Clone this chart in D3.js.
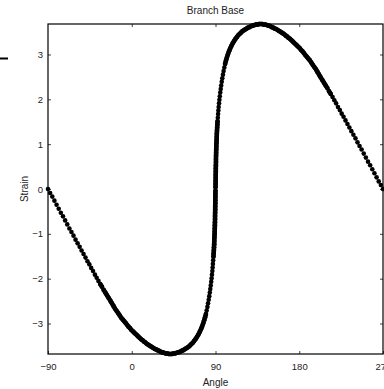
<!DOCTYPE html>
<html>
<head>
<meta charset="utf-8">
<script src="https://cdn.jsdelivr.net/npm/d3@7"></script>
<style>
  body { margin: 0; background: #fff; }
  text { font-family: "Liberation Sans", Arial, sans-serif; fill: #222; }
</style>
</head>
<body>
<div data-output></div>
<script>
// Strain vs angle: first the branch going down then up to 90,
// then the branch going over the top and back to zero at 270.
const angleDown = [
  -90, -87.7, -85.4, -83.1, -80.8, -78.5, -76.2, -73.9, -71.6, -69.3, -67.0,
  -64.8, -62.6, -60.4, -58.2, -56.0, -53.9, -51.8, -49.7, -47.6, -45.6,
  -43.6, -41.6, -39.6, -37.7, -35.8, -33.9, -32.0, -30.2, -28.4, -26.6,
  -24.8, -23.0, -21.3, -19.6, -17.9, -16.2, -14.5, -12.9, -11.3, -9.7,
  -8.1, -6.5, -5.0, -3.5, -2.0, -0.5, 1.0, 2.5, 4.0, 5.5,
  7.0, 8.5, 10.0, 11.5, 13.0, 14.5, 16.0, 17.5, 19.0, 20.5,
  22.0, 23.5, 25.0, 26.5, 28.0, 29.5, 31.0, 32.5, 34.0, 35.5,
  37.0, 38.5, 40.0, 41.5, 43.0, 44.5, 46.0, 47.5, 49.0, 50.5,
  52.0, 53.5, 55.0, 56.5, 58.0, 59.5, 61.0, 62.5, 64.0, 65.5,
  67.0, 68.5, 70.0, 71.5, 73.0, 74.3, 75.5, 76.7, 77.8, 78.8,
  79.7, 80.5, 81.3, 82.0, 82.7, 83.3, 83.9, 84.4, 84.9, 85.4,
  85.8, 86.2, 86.6, 86.9, 87.2, 87.5, 87.8, 88.0, 88.2, 88.4,
  88.6, 88.7, 88.8, 89.0, 89.1, 89.2, 89.3, 89.4, 89.5, 89.5,
  89.6, 89.7, 89.7, 89.8, 89.8, 89.9, 89.9, 90.0
];
const strainDown = [
  0, -0.09, -0.17, -0.26, -0.35, -0.44, -0.53, -0.61, -0.70, -0.79, -0.88,
  -0.96, -1.04, -1.13, -1.21, -1.29, -1.37, -1.45, -1.53, -1.61, -1.68,
  -1.76, -1.83, -1.91, -1.98, -2.05, -2.12, -2.18, -2.25, -2.31, -2.37,
  -2.43, -2.49, -2.55, -2.61, -2.67, -2.72, -2.77, -2.82, -2.87, -2.91,
  -2.95, -2.99, -3.03, -3.07, -3.10, -3.14, -3.17, -3.20, -3.23, -3.26,
  -3.29, -3.32, -3.35, -3.37, -3.40, -3.42, -3.45, -3.47, -3.49, -3.51,
  -3.53, -3.55, -3.57, -3.58, -3.60, -3.61, -3.63, -3.64, -3.65, -3.66,
  -3.67, -3.67, -3.68, -3.68, -3.68, -3.67, -3.67, -3.66, -3.65, -3.64,
  -3.63, -3.61, -3.60, -3.58, -3.56, -3.54, -3.52, -3.49, -3.46, -3.43,
  -3.39, -3.35, -3.30, -3.25, -3.19, -3.13, -3.07, -3.00, -2.93, -2.86,
  -2.79, -2.71, -2.63, -2.55, -2.47, -2.39, -2.31, -2.23, -2.15, -2.07,
  -1.99, -1.91, -1.83, -1.75, -1.67, -1.59, -1.51, -1.44, -1.37, -1.30,
  -1.23, -1.16, -1.09, -1.02, -0.95, -0.88, -0.81, -0.74, -0.67, -0.60,
  -0.53, -0.46, -0.39, -0.32, -0.25, -0.18, -0.11, -0.04
];
const angleUp = [
  90.0, 90.1, 90.1, 90.2, 90.2, 90.3, 90.3, 90.4,
  90.5, 90.5, 90.6, 90.7, 90.8, 90.9, 91.0, 91.2, 91.3, 91.4,
  91.6, 91.8, 92.0, 92.2, 92.5, 92.8, 93.1, 93.4, 93.8, 94.2,
  94.6, 95.1, 95.6, 96.1, 96.7, 97.3, 98.0, 98.7, 99.5, 100.3,
  101.2, 102.2, 103.3, 104.5, 105.7, 107.0, 108.5, 110.0, 111.5, 113.0,
  114.5, 116.0, 117.5, 119.0, 120.5, 122.0, 123.5, 125.0, 126.5, 128.0,
  129.5, 131.0, 132.5, 134.0, 135.5, 137.0, 138.5, 140.0, 141.5, 143.0,
  144.5, 146.0, 147.5, 149.0, 150.5, 152.0, 153.5, 155.0, 156.5, 158.0,
  159.5, 161.0, 162.5, 164.0, 165.5, 167.0, 168.5, 170.0, 171.5, 173.0,
  174.5, 176.0, 177.5, 179.0, 180.5, 182.0, 183.5, 185.0, 186.5, 188.1,
  189.7, 191.3, 192.9, 194.5, 196.2, 197.9, 199.6, 201.3, 203.0, 204.8,
  206.6, 208.4, 210.2, 212.0, 213.9, 215.8, 217.7, 219.6, 221.6, 223.6,
  225.6, 227.6, 229.7, 231.8, 233.9, 236.0, 238.2, 240.4, 242.6, 244.8,
  247.0, 249.3, 251.6, 253.9, 256.2, 258.5, 260.8, 263.1, 265.4, 267.7, 270
];
const strainUp = [
  0.04, 0.11, 0.18, 0.25, 0.32, 0.39, 0.46, 0.53,
  0.60, 0.67, 0.74, 0.81, 0.88, 0.95, 1.02, 1.09, 1.16, 1.23,
  1.30, 1.37, 1.44, 1.51, 1.59, 1.67, 1.75, 1.83, 1.91, 1.99,
  2.07, 2.15, 2.23, 2.31, 2.39, 2.47, 2.55, 2.63, 2.71, 2.79,
  2.86, 2.93, 3.00, 3.07, 3.13, 3.19, 3.25, 3.30, 3.35, 3.39,
  3.43, 3.46, 3.49, 3.52, 3.54, 3.56, 3.58, 3.60, 3.61, 3.63,
  3.64, 3.65, 3.66, 3.67, 3.67, 3.68, 3.68, 3.68, 3.67, 3.67,
  3.66, 3.65, 3.64, 3.63, 3.61, 3.60, 3.58, 3.57, 3.55, 3.53,
  3.51, 3.49, 3.47, 3.45, 3.42, 3.40, 3.37, 3.35, 3.32, 3.29,
  3.26, 3.23, 3.20, 3.17, 3.14, 3.10, 3.07, 3.03, 2.99, 2.95,
  2.91, 2.87, 2.82, 2.77, 2.72, 2.67, 2.61, 2.55, 2.49, 2.43,
  2.37, 2.31, 2.25, 2.18, 2.12, 2.05, 1.98, 1.91, 1.83, 1.76,
  1.68, 1.61, 1.53, 1.45, 1.37, 1.29, 1.21, 1.13, 1.04, 0.96,
  0.88, 0.79, 0.70, 0.61, 0.53, 0.44, 0.35, 0.26, 0.17, 0.09, 0
];

const xTicks = [-90, 0, 90, 180, 270];
const yTicks = [-3, -2, -1, 0, 1, 2, 3];
const TITLE = 'Branch Base';
const X_LABEL = 'Angle';
const Y_LABEL = 'Strain';

const SIZE = { WIDTH: 384, HEIGHT: 389 };
const box = { left: 48, right: 383, top: 24, bottom: 354 };
const DOT = 2.3;

const data = angleDown.concat(angleUp).map((a, i) => ({
  x: a,
  y: strainDown.concat(strainUp)[i]
}));

const x = d3.scaleLinear().domain([-90, 270]).range([box.left, box.right]);
const y = d3.scaleLinear().domain([-3.68, 3.68]).range([box.bottom, box.top]);

const svg = d3.select('[data-output]').append('svg')
  .attr('width', SIZE.WIDTH)
  .attr('height', SIZE.HEIGHT);

svg.append('rect')
  .attr('width', SIZE.WIDTH).attr('height', SIZE.HEIGHT)
  .attr('fill', '#fff');

// stray legend dash on the far left
svg.append('line')
  .attr('x1', 0).attr('x2', 8)
  .attr('y1', 58.5).attr('y2', 58.5)
  .attr('stroke', '#000').attr('stroke-width', 2);

// ticks point inward on all four sides, labels only bottom and left
const styleAxis = g => {
  g.select('.domain').remove();
  g.selectAll('.tick line').attr('stroke', '#444');
  g.selectAll('.tick text')
    .style('font-size', '9.5px')
    .attr('fill', '#222');
};

svg.append('g')
  .attr('transform', `translate(0, ${box.bottom})`)
  .call(d3.axisBottom(x).tickValues(xTicks).tickSizeInner(-3).tickSizeOuter(0).tickPadding(9))
  .call(styleAxis);

svg.append('g')
  .attr('transform', `translate(0, ${box.top})`)
  .call(d3.axisTop(x).tickValues(xTicks.slice(1, -1)).tickSizeInner(-3).tickSizeOuter(0).tickFormat(''))
  .call(styleAxis);

svg.append('g')
  .attr('transform', `translate(${box.left}, 0)`)
  .call(d3.axisLeft(y).tickValues(yTicks).tickSizeInner(-3).tickSizeOuter(0).tickPadding(5))
  .call(styleAxis);

svg.append('g')
  .attr('transform', `translate(${box.right}, 0)`)
  .call(d3.axisRight(y).tickValues(yTicks).tickSizeInner(-3).tickSizeOuter(0).tickFormat(''))
  .call(styleAxis);

svg.append('rect')
  .attr('x', box.left).attr('y', box.top)
  .attr('width', box.right - box.left).attr('height', box.bottom - box.top)
  .attr('fill', 'none').attr('stroke', '#000').attr('stroke-width', 1.2);

// where the markers crowd together they read as a solid line
const runs = [];
let run = [data[0]];
for (let i = 1; i < data.length; i++) {
  const a = data[i - 1], b = data[i];
  const d = Math.hypot(x(b.x) - x(a.x), y(b.y) - y(a.y));
  if (d < 3.4) {
    run.push(b);
  } else {
    if (run.length > 1) runs.push(run);
    run = [b];
  }
}
if (run.length > 1) runs.push(run);

const valueLine = d3.line()
  .x(d => x(d.x))
  .y(d => y(d.y));

svg.append('g').selectAll('path')
  .data(runs)
  .join('path')
  .attr('d', valueLine)
  .attr('fill', 'none')
  .attr('stroke', '#000')
  .attr('stroke-width', DOT * 2)
  .attr('stroke-linecap', 'round')
  .attr('stroke-linejoin', 'round');

svg.append('g').selectAll('circle')
  .data(data)
  .join('circle')
  .attr('cx', d => x(d.x))
  .attr('cy', d => y(d.y))
  .attr('r', DOT)
  .attr('fill', '#000');

svg.append('text')
  .attr('x', (box.left + box.right) / 2).attr('y', 14)
  .attr('text-anchor', 'middle')
  .style('font-size', '10px')
  .text(TITLE);

svg.append('text')
  .attr('x', (box.left + box.right) / 2).attr('y', 386)
  .attr('text-anchor', 'middle')
  .style('font-size', '10px')
  .text(X_LABEL);

svg.append('text')
  .attr('transform', `translate(28, ${y(0)}) rotate(-90)`)
  .attr('text-anchor', 'middle')
  .style('font-size', '10px')
  .text(Y_LABEL);
</script>
</body>
</html>
